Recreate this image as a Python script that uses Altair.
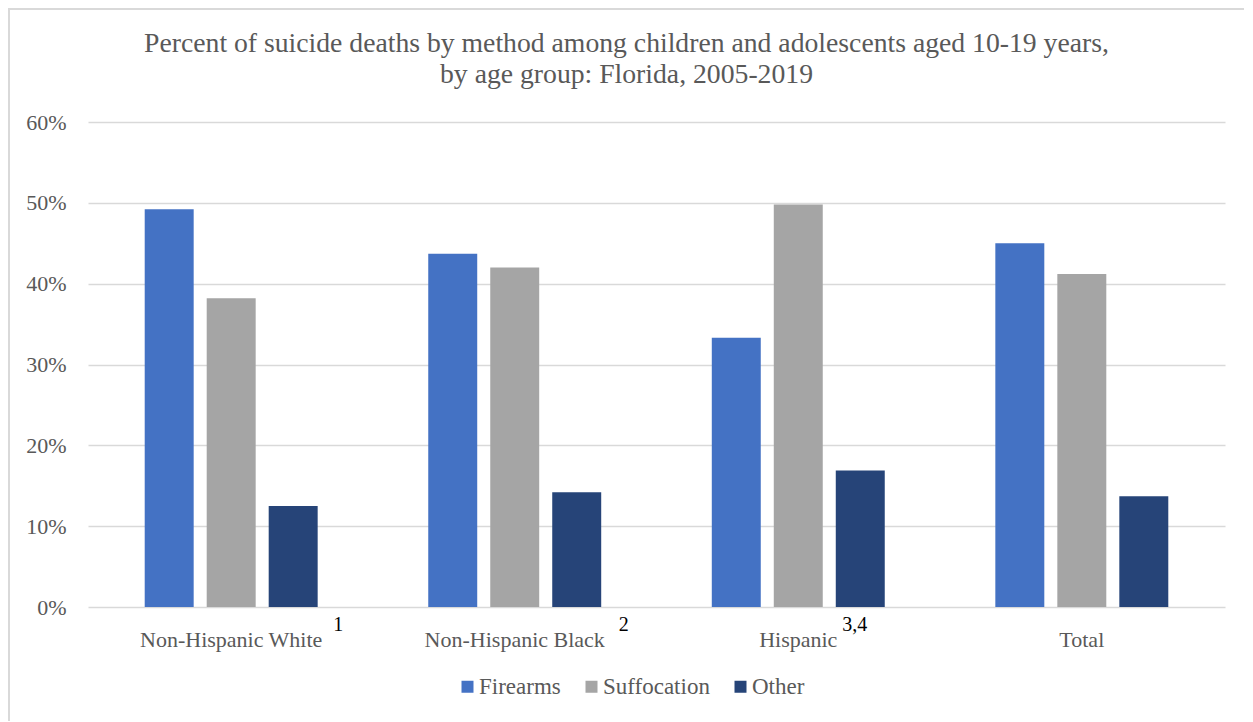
import altair as alt
import pandas as pd

groups = ["Non-Hispanic White", "Non-Hispanic Black", "Hispanic", "Total"]
superscripts = ["1", "2", "3,4", ""]
methods = ["Firearms", "Suffocation", "Other"]
firearms = [49.2, 43.7, 33.3, 45.0]
suffocation = [38.2, 42.0, 49.8, 41.2]
other = [12.5, 14.2, 16.9, 13.7]
colors = ["#4472C4", "#A5A5A5", "#264478"]
y_ticks = [0, 10, 20, 30, 40, 50, 60]

rows = []
for i, g in enumerate(groups):
    for m, vals in zip(methods, [firearms, suffocation, other]):
        rows.append({"group": g, "method": m, "value": vals[i]})
df = pd.DataFrame(rows)
sup_df = pd.DataFrame({"group": groups, "sup": superscripts})

W, H = 1137, 485
FONT = "Liberation Serif"
TXT = "#595959"

x_enc = alt.X("group:N", sort=groups,
              scale=alt.Scale(paddingInner=0.39, paddingOuter=0.2),
              axis=alt.Axis(title=None, labelAngle=0, domain=False, ticks=False,
                            labelPadding=22, labelFontSize=22, labelFont=FONT,
                            labelColor=TXT, labelLimit=500))

bars = alt.Chart(df).mark_bar().encode(
    x=x_enc,
    xOffset=alt.XOffset("method:N", sort=methods,
                        scale=alt.Scale(paddingInner=0.21, paddingOuter=0)),
    y=alt.Y("value:Q", scale=alt.Scale(domain=[0, 60], nice=False),
            axis=alt.Axis(title=None, values=y_ticks, labelExpr="datum.value + '%'",
                          domain=False, ticks=False, labelPadding=22,
                          labelFontSize=22, labelFont=FONT, labelColor=TXT,
                          gridColor="#D9D9D9", gridWidth=1.3)),
    color=alt.Color("method:N", sort=methods,
                    scale=alt.Scale(domain=methods, range=colors),
                    legend=alt.Legend(title=None, orient="none", direction="horizontal",
                                      legendX=368, legendY=553,
                                      symbolType="square", symbolSize=144,
                                      symbolStrokeWidth=0, labelFont=FONT,
                                      labelFontSize=23, labelColor=TXT,
                                      labelOffset=0, columnPadding=19)),
)

sup_offsets = {"Non-Hispanic White": 102, "Non-Hispanic Black": 104, "Hispanic": 44}
sup_layers = []
for g, dx in sup_offsets.items():
    sup_layers.append(
        alt.Chart(sup_df).transform_filter(alt.datum.group == g)
        .mark_text(align="left", baseline="alphabetic", dx=dx, font=FONT,
                   fontSize=20, color="#000000")
        .encode(x=alt.X("group:N", sort=groups), y=alt.value(H + 24), text="sup:N")
    )

frame_left = alt.Chart(sup_df).mark_rule(color="#D9D9D9", strokeWidth=2).encode(
    x=alt.value(-79), y=alt.value(-113), y2=alt.value(H + 114))
frame_top = alt.Chart(sup_df).mark_rule(color="#D9D9D9", strokeWidth=2).encode(
    x=alt.value(-80), x2=alt.value(W + 19), y=alt.value(-113))

chart = alt.layer(frame_left, frame_top, bars, *sup_layers).properties(
    width=W, height=H,
    title=alt.TitleParams(
        ["Percent of suicide deaths by method among children and adolescents aged 10-19 years,",
         "by age group: Florida, 2005-2019"],
        font=FONT, fontSize=27.7, fontWeight="normal", color=TXT,
        anchor="middle", frame="group", dx=-30, offset=-81, lineHeight=31),
    autosize=alt.AutoSizeParams(type="none"),
    padding={"left": 80, "top": 114, "right": 20, "bottom": 115},
).configure(background="white").configure_view(stroke=None).configure_legend(
    labelFont=FONT).configure_axis(labelFont=FONT)

chart.save("out.html", embed_options={"renderer": "svg", "actions": False})
